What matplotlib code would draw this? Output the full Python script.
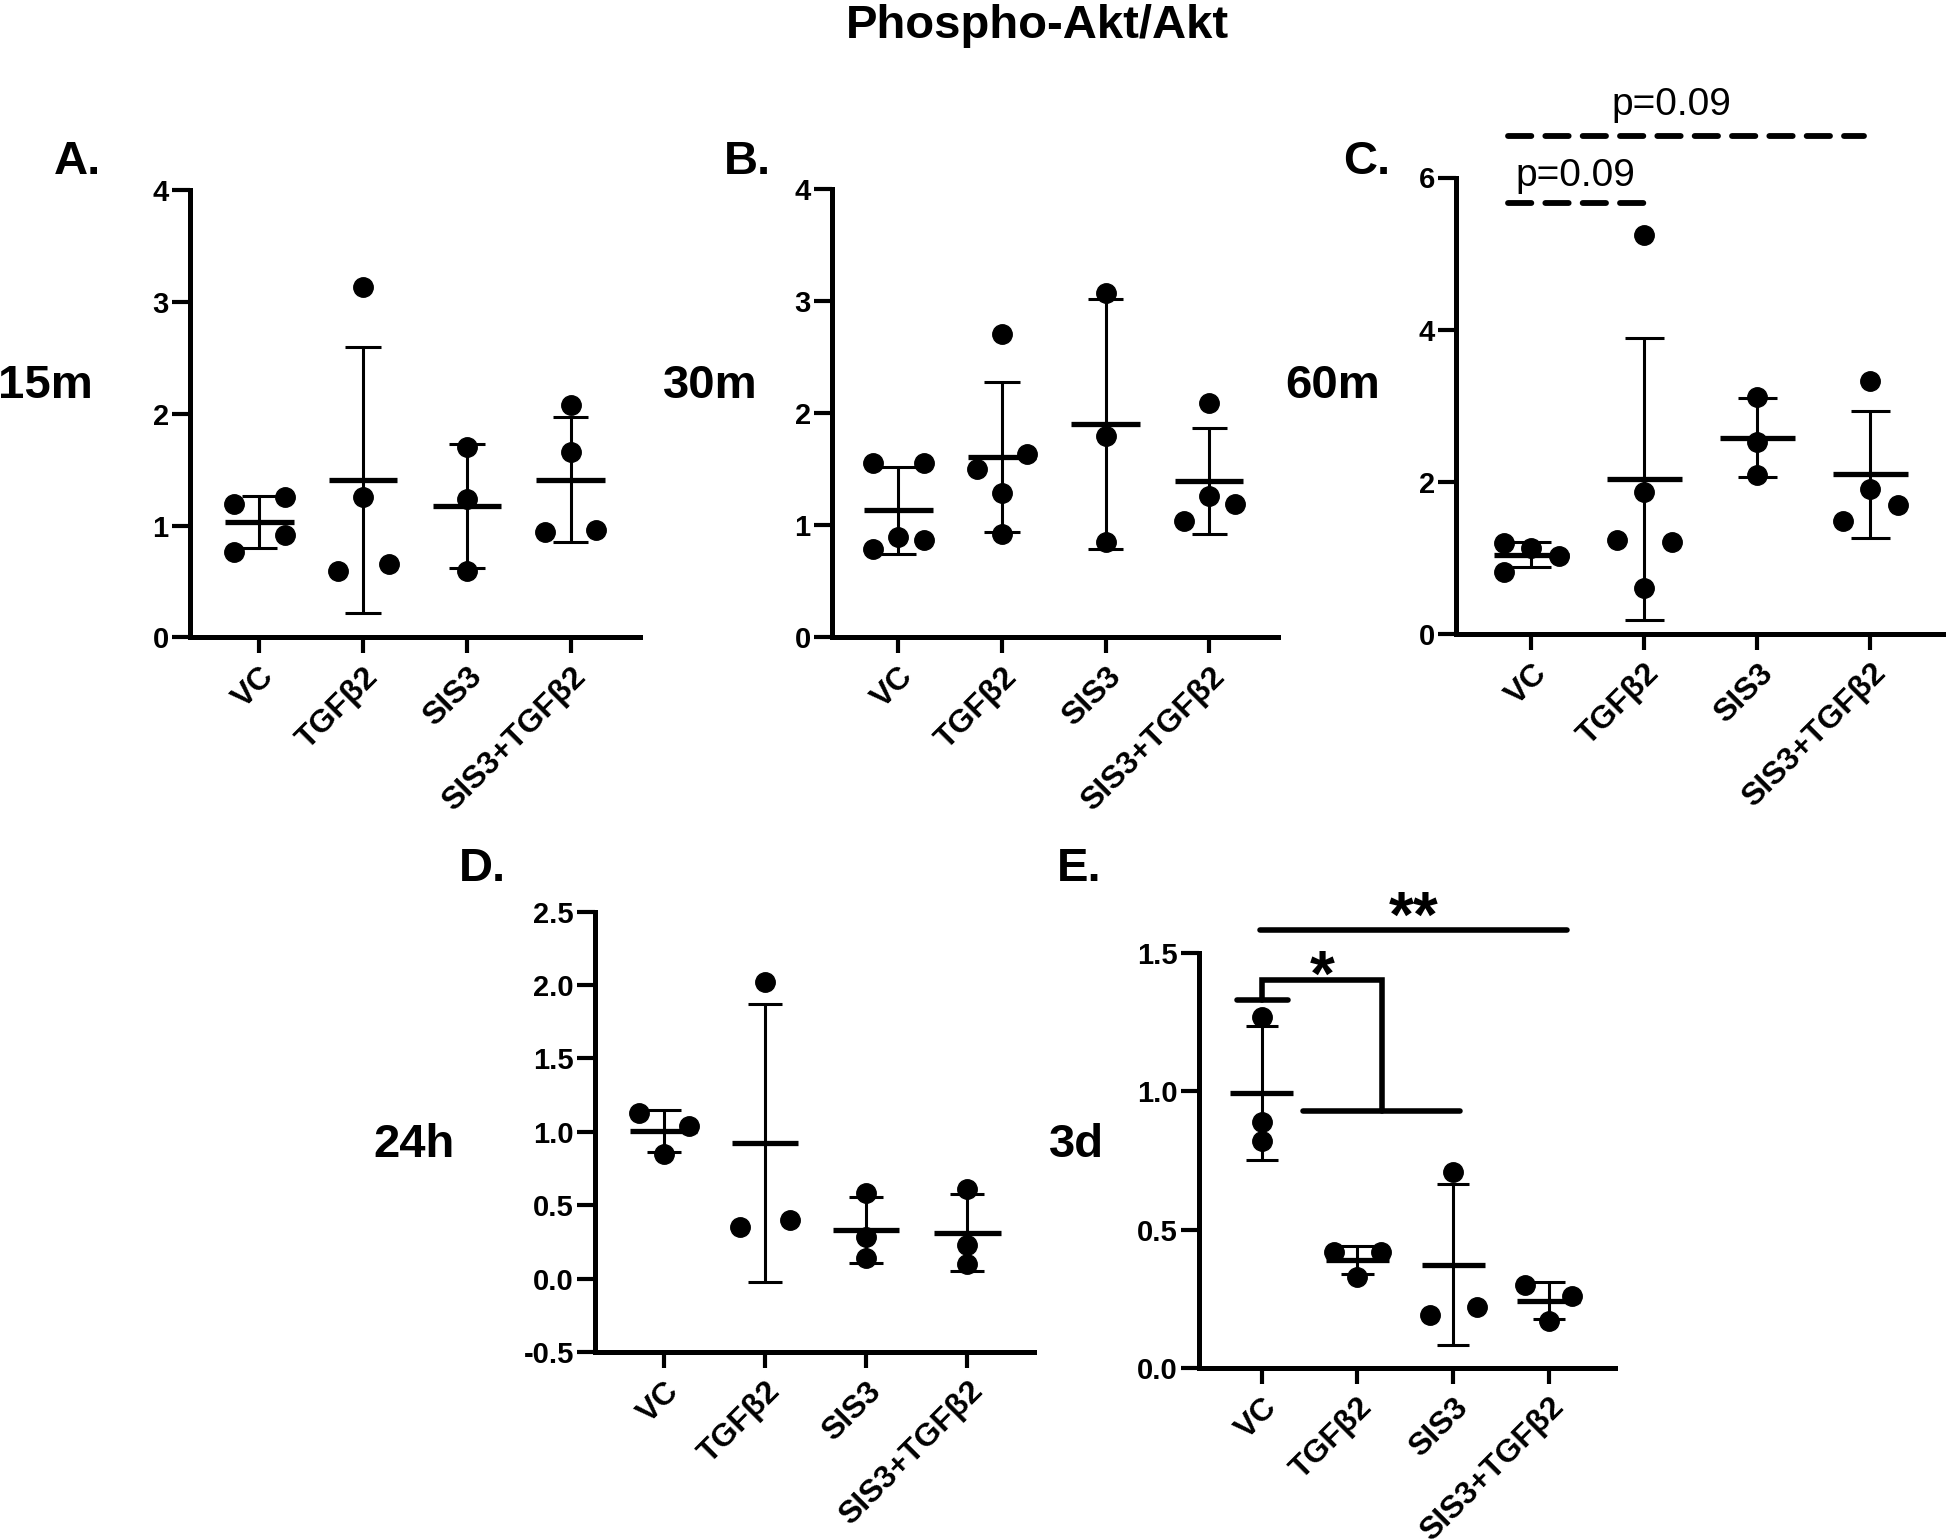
import matplotlib.pyplot as plt
import numpy as np
from matplotlib.ticker import FormatStrFormatter

plt.rcParams['font.family'] = ['Liberation Sans', 'DejaVu Sans']
plt.rcParams['axes.unicode_minus'] = False

groups = ['VC', 'TGFβ2', 'SIS3', 'SIS3+TGFβ2']

# Phospho-Akt/Akt ratios, one list per group (replicates)
# A. 15 min
a_vc = [0.76, 0.92, 1.19, 1.26]
a_tgf = [0.59, 0.66, 1.26, 3.14]
a_sis = [0.59, 1.24, 1.70]
a_both = [0.94, 0.96, 1.66, 2.08]
# B. 30 min
b_vc = [0.79, 0.87, 0.90, 1.56, 1.56]
b_tgf = [0.92, 1.29, 1.50, 1.64, 2.71]
b_sis = [0.85, 1.80, 3.07]
b_both = [1.04, 1.19, 1.26, 2.09]
# C. 60 min
c_vc = [0.82, 1.03, 1.13, 1.19]
c_tgf = [0.61, 1.24, 1.21, 1.86, 5.25]
c_sis = [2.09, 2.53, 3.12]
c_both = [1.48, 1.69, 1.91, 3.32]
# D. 24 h
d_vc = [1.13, 1.04, 0.85]
d_tgf = [0.35, 0.40, 2.02]
d_sis = [0.14, 0.28, 0.58]
d_both = [0.10, 0.23, 0.61]
# E. 3 days
e_vc = [0.82, 0.89, 1.27]
e_tgf = [0.33, 0.42, 0.42]
e_sis = [0.19, 0.22, 0.71]
e_both = [0.17, 0.30, 0.26]

W, H = 1946, 1539
fig = plt.figure(figsize=(W / 100, H / 100), dpi=100)


def box(left, top, right, bottom):
    return [left / W, 1 - bottom / H, (right - left) / W, (bottom - top) / H]


def spread(vals, ax, d_px=18.1, w=0.245):
    # GraphPad-like scatter: points that touch are spread sideways
    vals = np.asarray(vals, float)
    y0, y1 = ax.get_ylim()
    ppu = ax.get_position().height * H / (y1 - y0)
    order = np.argsort(vals, kind='stable')
    clusters, cur = [], [order[0]]
    for k in order[1:]:
        if (vals[k] - vals[cur[-1]]) * ppu < d_px:
            cur.append(k)
        else:
            clusters.append(cur)
            cur = [k]
    clusters.append(cur)
    offs = np.zeros(len(vals))
    slots = [-w, w, 0]
    for cl in clusters:
        if len(cl) > 1:
            for j, k in enumerate(sorted(cl)):
                offs[k] = slots[j % 3]
    return offs


def panel(rect, xlim, ylim, yticks, fmt, data):
    ax = fig.add_axes(box(*rect))
    ax.set_xlim(*xlim)
    ax.set_ylim(*ylim)
    for s in ['top', 'right']:
        ax.spines[s].set_visible(False)
    for s in ['left', 'bottom']:
        ax.spines[s].set_linewidth(3.6)
    ax.set_yticks(yticks)
    ax.yaxis.set_major_formatter(FormatStrFormatter(fmt))
    ax.set_xticks(range(len(groups)))
    ax.set_xticklabels(groups, rotation=45, ha='right', va='top',
                       rotation_mode='anchor', fontsize=23, fontweight='bold')
    ax.tick_params(axis='y', length=13, width=3, pad=2, labelsize=21)
    ax.tick_params(axis='x', length=11.5, width=3, pad=6)
    for lab in ax.get_yticklabels():
        lab.set_fontweight('bold')
    for i, vals in enumerate(data):
        m = np.mean(vals)
        sd = np.std(vals, ddof=1)
        ax.vlines(i, m - sd, m + sd, color='black', lw=2.2, clip_on=False)
        ax.hlines([m - sd, m + sd], i - 0.17, i + 0.17, color='black', lw=2.2, clip_on=False)
        ax.hlines(m, i - 0.33, i + 0.33, color='black', lw=3.8, clip_on=False)
        ax.plot(i + spread(vals, ax), vals, 'o', color='black', ms=14,
                clip_on=False, zorder=3)
    return ax


axA = panel((189.5, 190.4, 639.7, 637.4), (-0.673, 3.665), (0, 4), [0, 1, 2, 3, 4], '%d',
            [a_vc, a_tgf, a_sis, a_both])
axB = panel((831.5, 189.3, 1277.7, 637.4), (-0.645, 3.66), (0, 4), [0, 1, 2, 3, 4], '%d',
            [b_vc, b_tgf, b_sis, b_both])
axC = panel((1455.7, 177.5, 1946, 634), (-0.671, 3.67), (0, 6), [0, 2, 4, 6], '%d',
            [c_vc, c_tgf, c_sis, c_both])
axD = panel((594.6, 911.7, 1034, 1351.9), (-0.684, 3.66), (-0.5, 2.5),
            [-0.5, 0, 0.5, 1.0, 1.5, 2.0, 2.5], '%.1f', [d_vc, d_tgf, d_sis, d_both])
axE = panel((1198.7, 953, 1614.8, 1367.9), (-0.66, 3.69), (0, 1.5),
            [0, 0.5, 1.0, 1.5], '%.1f', [e_vc, e_tgf, e_sis, e_both])

# C: dashed comparison lines with p values
dash = dict(color='black', lw=4.2, linestyle=(0, (4, 2.4)), dash_capstyle='round',
            clip_on=False)
axC.plot([-0.21, 1.0], [5.67, 5.67], **dash)
axC.plot([-0.21, 2.94], [6.55, 6.55], **dash)
axC.text(0.385, 5.885, 'p=0.09', ha='center', va='baseline', fontsize=28, clip_on=False)
axC.text(1.24, 6.815, 'p=0.09', ha='center', va='baseline', fontsize=28, clip_on=False)

# E: significance brackets
sol = dict(color='black', lw=4, solid_capstyle='round', solid_joinstyle='miter',
           clip_on=False)
axE.plot([-0.26, 0.27], [1.33, 1.33], **sol)
axE.plot([0, 0, 1.26, 1.26], [1.33, 1.404, 1.404, 0.929], **sol)
axE.plot([0.43, 2.07], [0.929, 0.929], **sol)
axE.plot([-0.02, 3.19], [1.583, 1.583], **sol)
axE.text(1.59, 1.56, '**', ha='center', va='baseline', fontsize=46,
         fontweight='bold', clip_on=False)
axE.text(0.627, 1.345, '*', ha='center', va='baseline', fontsize=46,
         fontweight='bold', clip_on=False)


def ftext(x, y, s, ha='left', size=34):
    fig.text(x / W, 1 - y / H, s, ha=ha, va='baseline', fontsize=size, fontweight='bold')


ftext(1037, 38, 'Phospho-Akt/Akt', ha='center')
ftext(54, 174, 'A.')
ftext(724, 174, 'B.')
ftext(1343, 174, 'C.')
ftext(459, 881, 'D.')
ftext(1057, 881, 'E.')
ftext(93, 398, '15m', ha='right')
ftext(758, 398, '30m', ha='right')
ftext(1380, 398, '60m', ha='right')
ftext(455, 1157, '24h', ha='right')
ftext(1104, 1157, '3d', ha='right')

fig.savefig('out.png', dpi=100, facecolor='white')
